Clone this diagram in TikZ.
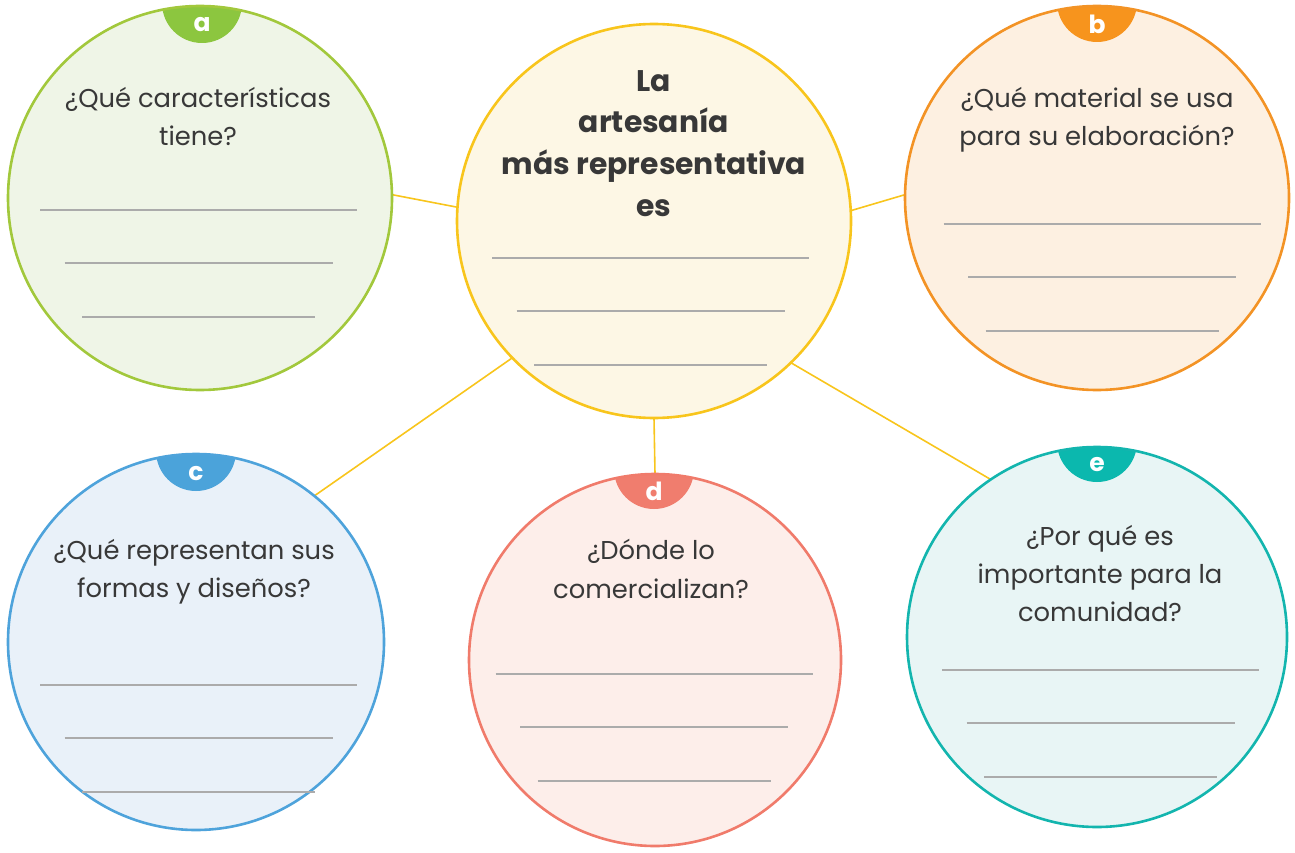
\documentclass[tikz,border=0pt]{standalone}
\usepackage{fontspec}
\setmainfont{Poppins}
\usetikzlibrary{calc}
\definecolor{txt}{HTML}{383838}
\definecolor{grayL}{HTML}{ABABAB}
\definecolor{yel}{HTML}{F8C51C}
\definecolor{yelF}{HTML}{FDF7E5}
\definecolor{grn}{HTML}{A2C83C}
\definecolor{grnB}{HTML}{8CC63F}
\definecolor{grnF}{HTML}{EFF5E7}
\definecolor{org}{HTML}{F39325}
\definecolor{orgB}{HTML}{F7941D}
\definecolor{orgF}{HTML}{FDF0E1}
\definecolor{blu}{HTML}{4EA3DB}
\definecolor{bluB}{HTML}{4BA3DA}
\definecolor{bluF}{HTML}{E9F1F9}
\definecolor{red}{HTML}{F07B6B}
\definecolor{redB}{HTML}{F07D6E}
\definecolor{redF}{HTML}{FDEEEA}
\definecolor{tea}{HTML}{13B5AE}
\definecolor{teaB}{HTML}{0BB8AE}
\definecolor{teaF}{HTML}{E8F5F5}
\begin{document}
\begin{tikzpicture}[x=1pt,y=-1pt,
  bubble/.style={circle, inner sep=0pt, outer sep=0pt, minimum size=#1},
  rim/.style={line width=2.6pt},
  conn/.style={draw=yel, line width=1.6pt},
  blank/.style={draw=grayL, line width=1.6pt},
  question/.style={text=txt, anchor=base, inner sep=0pt, font=\fontsize{25.8}{30}\selectfont},
  title/.style={text=txt, anchor=base, inner sep=0pt, font=\bfseries\fontsize{29.8}{32}\selectfont},
  badgeletter/.style={text=white, inner sep=0pt, font=\bfseries\fontsize{25}{26}\selectfont}]
\useasboundingbox (0,0) rectangle (1295,853);

% ---------- connectors (behind) ----------
\node[bubble=394pt] (m) at (654,221) {};
\node[bubble=384pt] (a) at (200,198) {};
\node[bubble=384pt] (b) at (1097,198) {};
\node[bubble=376pt] (c) at (196,642) {};
\node[bubble=372pt] (d) at (655,660) {};
\node[bubble=380pt] (e) at (1097,637) {};

\draw[conn] (m.176.8) -- (a.1.5);
\draw[conn] (m.3.8) -- (b.179);
\draw[conn] (m.224.2) -- (c.51.9);
\draw[conn] (m.270) -- (d.90);
\draw[conn] (m.314.4) -- (e.124.9);

% ---------- circles ----------
% a
\fill[grnF] (a.center) circle[radius=192pt];
\begin{scope}\clip (a.center) circle[radius=192pt];
  \fill[grnB] (202,3) circle[radius=40pt];
\end{scope}
\draw[rim, grn] (a.center) circle[radius=192pt];
\node[badgeletter] (la) at (202,25) {a};
% m
\fill[yelF] (m.center) circle[radius=197pt];
\draw[rim, yel] (m.center) circle[radius=197pt];
% b
\fill[orgF] (b.center) circle[radius=192pt];
\begin{scope}\clip (b.center) circle[radius=192pt];
  \fill[orgB] (1097,2) circle[radius=40pt];
\end{scope}
\draw[rim, org] (b.center) circle[radius=192pt];
\node[badgeletter] (lb) at (1097,24) {b};
% c
\fill[bluF] (c.center) circle[radius=188pt];
\begin{scope}\clip (c.center) circle[radius=188pt];
  \fill[bluB] (196,451) circle[radius=40pt];
\end{scope}
\draw[rim, blu] (c.center) circle[radius=188pt];
\node[badgeletter] (lc) at (196,474) {c};
% d
\fill[redF] (d.center) circle[radius=186pt];
\begin{scope}\clip (d.center) circle[radius=186pt];
  \fill[redB] (654,469) circle[radius=40pt];
\end{scope}
\draw[rim, red] (d.center) circle[radius=186pt];
\node[badgeletter] (ld) at (654,491) {d};
% e
\fill[teaF] (e.center) circle[radius=190pt];
\begin{scope}\clip (e.center) circle[radius=190pt];
  \fill[teaB] (1097,442) circle[radius=40pt];
\end{scope}
\draw[rim, tea] (e.center) circle[radius=190pt];
\node[badgeletter] (le) at (1097,465) {e};

% ---------- texts ----------
\node[title] (t1) at (654,92) {La};
\node[title] (t2) at (654,133) {artesanía};
\node[title] (t3) at (654,175) {más representativa};
\node[title] (t4) at (654,216) {es};

\node[question] (qa1) at (198,108) {¿Qué características};
\node[question] (qa2) at (198,146) {tiene?};
\node[question] (qb1) at (1097,108) {¿Qué material se usa};
\node[question] (qb2) at (1097,146) {para su elaboración?};
\node[question] (qc1) at (194,559) {¿Qué representan sus};
\node[question] (qc2) at (194,597) {formas y diseños?};
\node[question] (qd1) at (651,559) {¿Dónde lo};
\node[question] (qd2) at (651,598) {comercializan?};
\node[question] (qe1) at (1100,545) {¿Por qué es};
\node[question] (qe2) at (1100,583) {importante para la};
\node[question] (qe3) at (1100,621) {comunidad?};

% ---------- answer lines ----------
\foreach \cx/\y in {198.5/210, 650.5/258, 1102/224, 198.5/685, 654/674, 1100.5/670}{
  \draw[blank] (\cx-158.5,\y) -- (\cx+158.5,\y);
  \draw[blank] (\cx-134,\y+53) -- (\cx+134,\y+53);
  \draw[blank] (\cx-116.5,\y+107) -- (\cx+116.5,\y+107);
}
\end{tikzpicture}
\end{document}
